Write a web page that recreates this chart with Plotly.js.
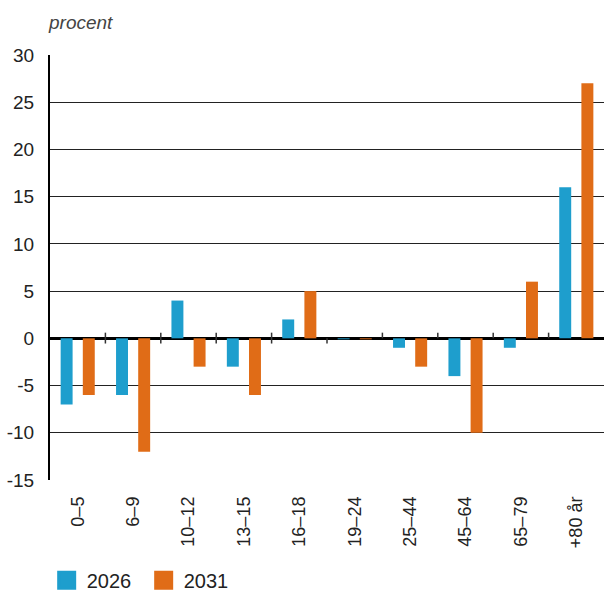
<!DOCTYPE html>
<html>
<head>
<meta charset="utf-8">
<script src="https://cdn.plot.ly/plotly-3.0.1.min.js"></script>
<style>html,body{margin:0;padding:0;background:#fff;}#chart{width:604px;height:594px;}</style>
</head>
<body>
<div id="chart"></div>
<script>
const categories = ["0–5", "6–9", "10–12", "13–15", "16–18", "19–24", "25–44", "45–64", "65–79", "+80 år"];
const values2026 = [-7, -6, 4, -3, 2, -0.1, -1, -4, -1, 16];
const values2031 = [-6, -12, -3, -6, 5, -0.1, -3, -10, 6, 27];
const seriesNames = ["2026", "2031"];
const yTicks = [-15, -10, -5, 0, 5, 10, 15, 20, 25, 30];

const blue = "#1e9ecd";
const orange = "#e06c17";
const font = "Liberation Sans, Arial, sans-serif";

const traces = [
  {type: "bar", x: categories, y: values2026, name: seriesNames[0], marker: {color: blue}, showlegend: false, hoverinfo: "none"},
  {type: "bar", x: categories, y: values2031, name: seriesNames[1], marker: {color: orange}, showlegend: false, hoverinfo: "none"},
  {type: "scatter", mode: "markers", x: [null], y: [null], name: seriesNames[0], marker: {symbol: "square", size: 16, color: blue, line: {color: blue, width: 3}}},
  {type: "scatter", mode: "markers", x: [null], y: [null], name: seriesNames[1], marker: {symbol: "square", size: 16, color: orange, line: {color: orange, width: 3}}}
];

// category separators on the zero line
const shapes = [];
for (let i = 1; i < categories.length; i++) {
  const up = i !== 5;
  const down = i <= 5;
  shapes.push({type: "line", xref: "x", yref: "y", x0: i - 0.5, x1: i - 0.5,
    y0: down ? -0.55 : 0, y1: up ? 0.6 : 0, line: {color: "#333", width: 1.5}});
}

const layout = {
  width: 604, height: 594,
  margin: {l: 50, r: 0, t: 55, b: 114, autoexpand: false},
  paper_bgcolor: "#fff", plot_bgcolor: "#fff",
  barmode: "group", bargap: 0.2, bargroupgap: 0.46,
  font: {family: font, color: "#222"},
  showlegend: true,
  legend: {orientation: "h", x: -0.006, xanchor: "left", y: -0.19, yanchor: "top",
    font: {family: font, size: 20, color: "#222"}, itemwidth: 30, entrywidth: 52, entrywidthmode: "pixels",
    tracegroupgap: 0, traceorder: "normal"},
  xaxis: {type: "category", range: [-0.5, categories.length - 0.5], tickangle: -90,
    tickfont: {family: font, size: 18, color: "#222"}, showgrid: false, showline: false,
    ticks: "", ticklabelstandoff: 12, zeroline: false, fixedrange: true},
  yaxis: {range: [-15, 30], tickvals: yTicks, ticktext: yTicks.map(String),
    tickfont: {family: font, size: 19, color: "#222"}, showgrid: true, gridcolor: "#222", gridwidth: 1,
    zeroline: true, zerolinecolor: "#000", zerolinewidth: 2.5,
    showline: true, linecolor: "#000", linewidth: 2, ticks: "", ticklabelstandoff: 10, fixedrange: true},
  shapes: shapes,
  annotations: [{text: "<i>procent</i>", xref: "paper", yref: "paper", x: -0.008, y: 1, xanchor: "left", yanchor: "bottom",
    yshift: 20, showarrow: false, font: {family: font, size: 19, color: "#444"}}]
};

Plotly.newPlot("chart", traces, layout, {staticPlot: true, displayModeBar: false});
</script>
</body>
</html>
